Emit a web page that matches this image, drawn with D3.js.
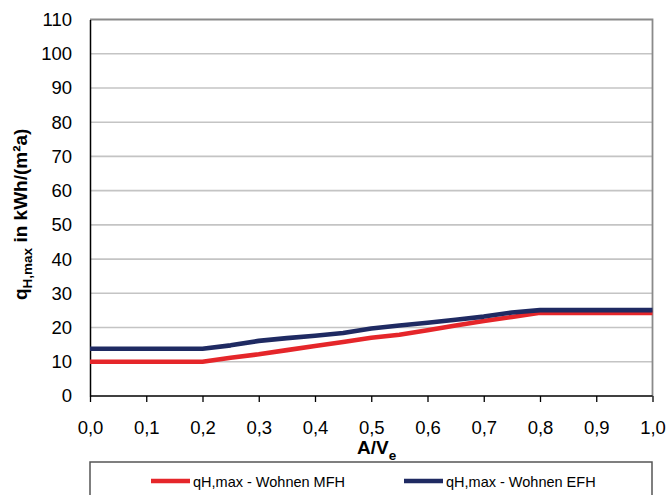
<!DOCTYPE html>
<html><head><meta charset="utf-8">
<script src="https://cdn.jsdelivr.net/npm/d3@7"></script>
<style>body{margin:0;background:#fff}svg{display:block;font-family:"Liberation Sans",Arial,sans-serif}</style>
</head><body><svg id="c" width="668" height="495"></svg>
<script>
const xValues = [0, 0.05, 0.1, 0.15, 0.2, 0.25, 0.3, 0.35, 0.4, 0.45, 0.5, 0.55, 0.6, 0.65, 0.7, 0.75, 0.8, 0.85, 0.9, 0.95, 1.0];
const mfh = [10, 10, 10, 10, 10, 11.2, 12.2, 13.4, 14.6, 15.8, 17.0, 17.9, 19.2, 20.6, 21.9, 23.1, 24.3, 24.3, 24.3, 24.3, 24.3];
const efh = [13.8, 13.8, 13.8, 13.8, 13.8, 14.8, 16.1, 16.9, 17.6, 18.4, 19.7, 20.6, 21.4, 22.3, 23.2, 24.4, 25.1, 25.1, 25.1, 25.1, 25.1];
const xTicks = [0, 0.1, 0.2, 0.3, 0.4, 0.5, 0.6, 0.7, 0.8, 0.9, 1.0];
const yTicks = [0, 10, 20, 30, 40, 50, 60, 70, 80, 90, 100, 110];
const seriesNames = ["qH,max - Wohnen MFH", "qH,max - Wohnen EFH"];
const colors = ["#e5262a", "#1f2a62"];

const svg = d3.select("#c");
const x = d3.scaleLinear().domain([0, 1]).range([90, 652.5]);
const y = d3.scaleLinear().domain([0, 110]).range([396, 19.5]);
const fmt = d => d.toFixed(1).replace(".", ",");

// gridlines
svg.append("g").selectAll("line").data(yTicks.filter(v => v > 0 && v < 110)).join("line")
  .attr("x1", x(0)).attr("x2", x(1)).attr("y1", d => y(d)).attr("y2", d => y(d))
  .attr("stroke", "#c4c4c4").attr("stroke-width", 1.6);
// frame top/right
svg.append("path").attr("d", `M${x(0)},${y(110)}H${x(1)}V${y(0)}`)
  .attr("fill", "none").attr("stroke", "#8a8a8a").attr("stroke-width", 1.8);

// y axis
const yAxis = d3.axisLeft(y).tickValues(yTicks).tickSize(0).tickPadding(18);
const gy = svg.append("g").attr("transform", `translate(${x(0)},0)`).call(yAxis);
gy.select(".domain").attr("stroke", "#000").attr("stroke-width", 1.5);
gy.selectAll("text").attr("font-size", 18.5).attr("fill", "#000").attr("font-family", "Liberation Sans, Arial");

// x axis
const xAxis = d3.axisBottom(x).tickValues(xTicks).tickSize(6).tickPadding(18.5).tickFormat(fmt);
const gx = svg.append("g").attr("transform", `translate(0,${y(0)})`).call(xAxis);
gx.select(".domain").attr("stroke", "#000").attr("stroke-width", 1.5).attr("d", `M${x(0)},0H${x(1)}`);
gx.selectAll(".tick line").attr("stroke", "#000").attr("stroke-width", 1.3);
gx.selectAll("text").attr("font-size", 18.5).attr("fill", "#000").attr("font-family", "Liberation Sans, Arial");

// lines
const line = d3.line().x((d, i) => x(xValues[i])).y(d => y(d));
[mfh, efh].forEach((s, k) => {
  svg.append("path").datum(s).attr("d", line).attr("fill", "none")
    .attr("stroke", colors[k]).attr("stroke-width", 4.6).attr("stroke-linejoin", "round");
});

// x title
const xt = svg.append("text").attr("x", 357).attr("y", 453.5).attr("font-size", 19).attr("font-weight", "bold").attr("fill", "#000");
xt.append("tspan").text("A/V");
xt.append("tspan").attr("font-size", 13.5).attr("dy", 6).text("e");

// y title
const yt = svg.append("text").attr("transform", "translate(27,300) rotate(-90)").attr("font-size", 19).attr("font-weight", "bold").attr("fill", "#000");
yt.append("tspan").text("q");
yt.append("tspan").attr("font-size", 13.5).attr("dy", 4.5).text("H,max");
yt.append("tspan").attr("dy", -4.5).text(" in kWh/(m²a)");

// legend
svg.append("rect").attr("x", 90).attr("y", 462).attr("width", 562).attr("height", 60)
  .attr("fill", "#fff").attr("stroke", "#555").attr("stroke-width", 1.5);
const legX = [151, 404];
seriesNames.forEach((n, k) => {
  svg.append("line").attr("x1", legX[k]).attr("x2", legX[k] + 39).attr("y1", 481).attr("y2", 481)
    .attr("stroke", colors[k]).attr("stroke-width", 4.5);
  svg.append("text").attr("x", legX[k] + 42).attr("y", 486.5).attr("font-size", 14.5).attr("fill", "#000").text(n);
});
</script></body></html>
